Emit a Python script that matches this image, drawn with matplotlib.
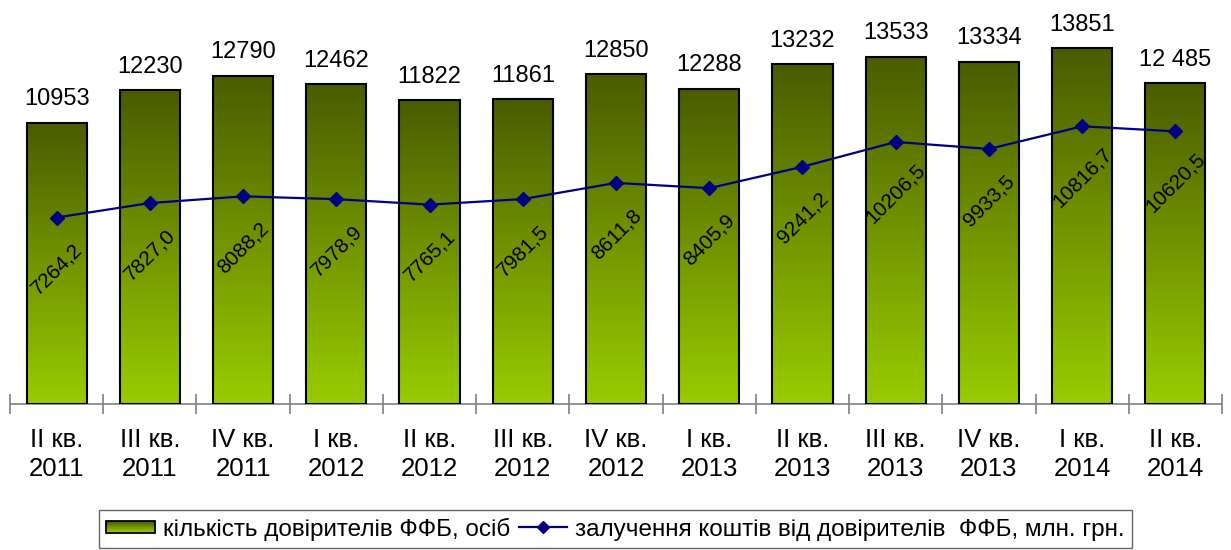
import matplotlib
matplotlib.use("Agg")
import matplotlib.pyplot as plt
import numpy as np
from matplotlib.colors import LinearSegmentedColormap
from matplotlib.lines import Line2D
from matplotlib.patches import Patch, Rectangle
from matplotlib.legend_handler import HandlerBase

plt.rcParams['font.family'] = ['Liberation Sans', 'DejaVu Sans']

quarters = ["II кв.\n2011", "III кв.\n2011", "IV кв.\n2011", "I кв.\n2012",
            "II кв.\n2012", "III кв.\n2012", "IV кв.\n2012", "I кв.\n2013",
            "II кв.\n2013", "III кв.\n2013", "IV кв.\n2013", "I кв.\n2014",
            "II кв.\n2014"]
clients = [10953, 12230, 12790, 12462, 11822, 11861, 12850, 12288,
           13232, 13533, 13334, 13851, 12485]
client_labels = ["10953", "12230", "12790", "12462", "11822", "11861", "12850",
                 "12288", "13232", "13533", "13334", "13851", "12 485"]
funds = [7264.2, 7827.0, 8088.2, 7978.9, 7765.1, 7981.5, 8611.8, 8405.9,
         9241.2, 10206.5, 9933.5, 10816.7, 10620.5]

bar_name = "кількість довірителів ФФБ, осіб"
line_name = "залучення коштів від довірителів  ФФБ, млн. грн."

cmap = LinearSegmentedColormap.from_list("grn", ["#99cc00", "#4a5c00"])


class GradientHandler(HandlerBase):
    # legend box drawn as stacked stripes so it looks like the bar gradient
    def create_artists(self, legend, orig_handle, xdescent, ydescent,
                       width, height, fontsize, trans):
        h = height * 0.7
        y0 = -ydescent + (height - h) / 2
        n = 12
        arts = []
        for i in range(n):
            r = Rectangle((-xdescent, y0 + h * i / n), width, h / n + 0.05,
                          facecolor=cmap(i / (n - 1)), edgecolor="none",
                          transform=trans)
            arts.append(r)
        arts.append(Rectangle((-xdescent, y0), width, h, facecolor="none",
                              edgecolor="black", linewidth=1.3,
                              transform=trans))
        return arts


fig = plt.figure(figsize=(12.31, 5.5), dpi=100)
ax = fig.add_axes([10/1231, 146/550, 1212/1231, 404/550])

x = np.arange(len(clients))
w = 0.645
bars = ax.bar(x, clients, width=w, facecolor="none", edgecolor="black",
              linewidth=1.5, zorder=3)
grad = np.linspace(0, 1, 256).reshape(-1, 1)
for b in bars:
    x0, y0 = b.get_x(), b.get_y()
    im = ax.imshow(grad, cmap=cmap, aspect="auto", origin="lower",
                   extent=[x0, x0 + b.get_width(), y0, y0 + b.get_height()],
                   zorder=2)
    im.set_clip_path(b)

for xi, v, lab in zip(x, clients, client_labels):
    ax.annotate(lab, (xi, v), xytext=(0, 9), textcoords="offset points",
                ha="center", va="bottom", fontsize=17)

ax.plot(x, funds, color="#000080", linewidth=1.6, marker="D", markersize=7,
        zorder=4)
for xi, v in zip(x, funds):
    ax.annotate(f"{v:.1f}".replace(".", ","), (xi, v), xytext=(0, -37),
                textcoords="offset points", ha="center", va="center",
                rotation=45, fontsize=15, zorder=5)

ax.set_xlim(-0.5, len(clients) - 0.5)
ax.set_ylim(0, 15736)
ax.set_yticks([])
for s in ["top", "right", "left"]:
    ax.spines[s].set_visible(False)
ax.spines["bottom"].set_color("#808080")
ax.spines["bottom"].set_linewidth(1.2)

ax.set_xticks(np.arange(-0.5, len(clients), 1.0))
ax.set_xticklabels([])
ax.tick_params(axis="x", which="major", direction="inout", length=15,
               color="#808080", width=1.2)
ax.set_xticks(x, minor=True)
ax.set_xticklabels(quarters, minor=True, fontsize=18.5, linespacing=1.3)
ax.tick_params(axis="x", which="minor", length=0, pad=17)

bar_handle = Patch(facecolor="#76a000", edgecolor="black")
handles = [bar_handle,
           Line2D([], [], color="#000080", linewidth=1.6, marker="D",
                  markersize=6)]
leg = fig.legend(handles, [bar_name, line_name], loc="lower center",
                 bbox_to_anchor=(0.5, 2/550), ncol=2, frameon=True,
                 fontsize=17.5, fancybox=False, edgecolor="#404040",
                 handlelength=2.0, handletextpad=0.33, columnspacing=0.37,
                 borderpad=0.3, borderaxespad=0,
                 handler_map={bar_handle: GradientHandler()})
leg.get_frame().set_linewidth(1.0)

fig.savefig("out.png", dpi=100)
